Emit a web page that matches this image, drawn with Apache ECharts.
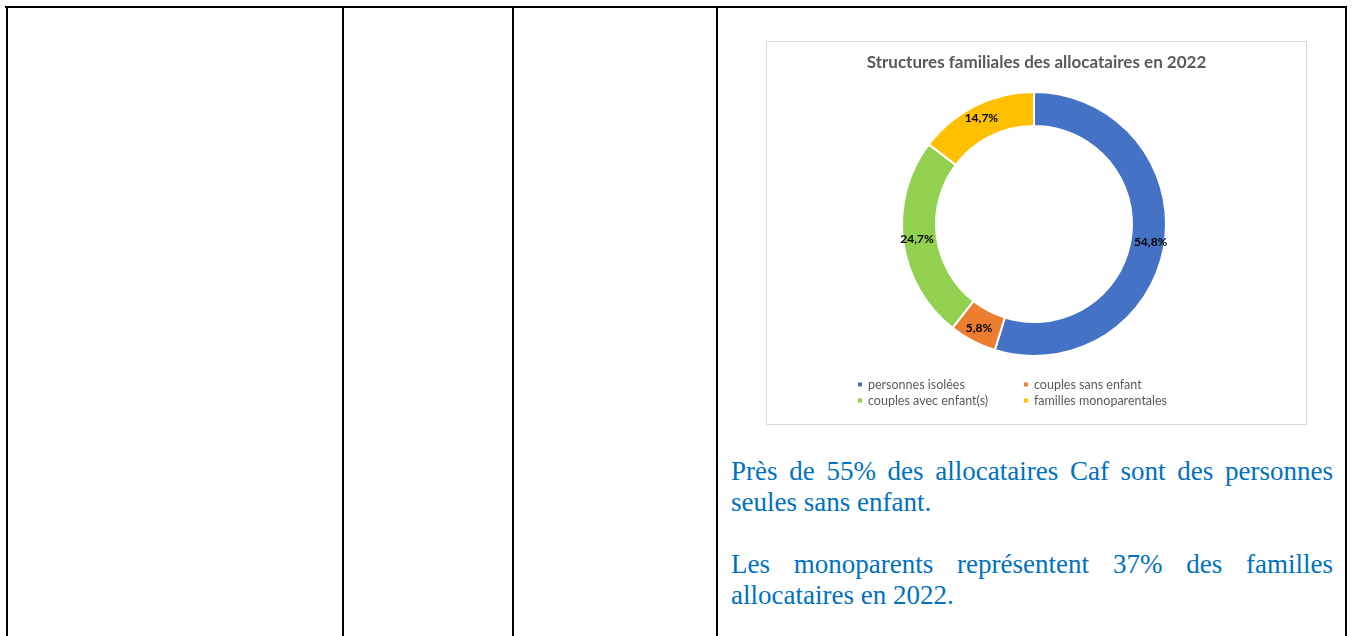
<!DOCTYPE html>
<html><head><meta charset="utf-8">
<script src="https://cdn.jsdelivr.net/npm/echarts@6/dist/echarts.min.js"></script>
<style>
html,body{margin:0;padding:0;background:#fff;width:1353px;height:636px;overflow:hidden;position:relative;}
.hl{position:absolute;background:#000;}
#box{position:absolute;left:766px;top:41px;width:539px;height:382px;border:1px solid #d9d9d9;box-sizing:content-box;}
#chart{width:539px;height:382px;}
#txt{position:absolute;left:731px;top:456px;width:602px;font-family:"Liberation Serif","Times New Roman",serif;font-size:27px;line-height:31px;color:#0070C0;text-align:justify;}
#txt p{margin:0;}
</style></head>
<body>
<div class="hl" style="left:5px;top:6px;width:1342px;height:2px;"></div>
<div class="hl" style="left:6px;top:6px;width:1.5px;height:630px;"></div>
<div class="hl" style="left:342px;top:6px;width:1.5px;height:630px;"></div>
<div class="hl" style="left:512px;top:6px;width:1.5px;height:630px;"></div>
<div class="hl" style="left:716px;top:6px;width:1.5px;height:630px;"></div>
<div class="hl" style="left:1345px;top:6px;width:2px;height:630px;"></div>
<div id="box"><div id="chart"></div></div>
<div id="txt">
<p>Près de 55% des allocataires Caf sont des personnes seules sans enfant.</p>
<p>&nbsp;</p>
<p>Les monoparents représentent 37% des familles allocataires en 2022.</p>
</div>
<script>
var title = 'Structures familiales des allocataires en 2022';
var categories = ['personnes isolées','couples sans enfant','couples avec enfant(s)','familles monoparentales'];
var values = [54.8, 5.8, 24.7, 14.7];
var colors = ['#4472C4','#ED7D31','#92D050','#FFC000'];

var chart = echarts.init(document.getElementById('chart'), null, {renderer:'canvas'});
var data = categories.map(function(c,i){return {name:c, value:values[i], itemStyle:{color:colors[i]}};});
var font = 'Lato, "Noto Sans", sans-serif';
chart.setOption({
  animation:false,
  title:{text:title,left:'center',top:7,textStyle:{fontFamily:font,fontSize:17,fontWeight:'bold',color:'#595959'}},
  legend:[
    {data:[categories[0],categories[2]],orient:'vertical',left:84,top:330,itemWidth:6,itemHeight:6,itemGap:1,icon:'rect',
     textStyle:{fontFamily:font,fontSize:12.5,color:'#595959',lineHeight:15},selectedMode:false},
    {data:[categories[1],categories[3]],orient:'vertical',left:250,top:330,itemWidth:6,itemHeight:6,itemGap:1,icon:'rect',
     textStyle:{fontFamily:font,fontSize:12.5,color:'#595959',lineHeight:15},selectedMode:false}
  ],
  series:[{
    type:'pie',
    center:[267,182],
    radius:[98,132],
    startAngle:90,
    clockwise:true,
    data:data,
    itemStyle:{borderColor:'#fff',borderWidth:2},
    label:{show:true,position:'inside',fontFamily:font,fontSize:12,fontWeight:'bold',color:'#000',
      formatter:function(p){return p.value.toFixed(1).replace('.',',')+'%';}},
    labelLine:{show:false},
    emphasis:{disabled:true}
  }]
});
</script>
</body></html>
